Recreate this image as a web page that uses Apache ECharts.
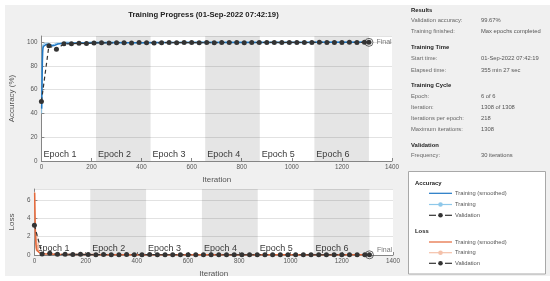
<!DOCTYPE html>
<html><head><meta charset="utf-8">
<script src="https://cdn.jsdelivr.net/npm/echarts/dist/echarts.min.js"></script>
<style>
html,body{margin:0;padding:0;background:#fff;}
#bg{position:absolute;left:5px;top:5px;width:545px;height:271px;background:#f0f0f0;}
#c{position:absolute;left:0;top:0;width:550px;height:281px;}
</style>
</head><body><div id="bg"></div><div id="c"></div>
<script>
const FONT = 'Liberation Sans, Arial, sans-serif';
const titleText = 'Training Progress (01-Sep-2022 07:42:19)';
const epochNames = ['Epoch 1','Epoch 2','Epoch 3','Epoch 4','Epoch 5','Epoch 6'];
const epochBounds = [0,218,436,654,872,1090,1308];
const xTicks = [0,200,400,600,800,1000,1200,1400];
const accTicks = [0,20,40,60,80,100];
const lossTicks = [0,2,4,6];

const valIter = [0,30,60,90,120,150,180,210,240,270,300,330,360,390,420,450,480,510,540,570,600,630,660,690,720,750,780,810,840,870,900,930,960,990,1020,1050,1080,1110,1140,1170,1200,1230,1260,1290,1308];
const accVal = [50.0,96.9,93.8,98.5,98.4,98.9,98.6,99.1,99.3,99.2,99.4,99.3,99.2,99.5,99.3,99.1,99.4,99.5,99.4,99.5,99.5,99.3,99.6,99.4,99.5,99.6,99.5,99.4,99.6,99.5,99.6,99.6,99.5,99.6,99.6,99.5,99.6,99.7,99.6,99.6,99.6,99.7,99.6,99.7,99.67];
const lossVal = [3.25,0.12,0.18,0.08,0.07,0.06,0.07,0.05,0.04,0.05,0.04,0.04,0.05,0.03,0.04,0.05,0.03,0.03,0.03,0.03,0.03,0.04,0.02,0.03,0.03,0.02,0.02,0.03,0.02,0.02,0.02,0.02,0.02,0.02,0.02,0.02,0.02,0.02,0.02,0.02,0.02,0.02,0.02,0.02,0.02];

const accTrainIter = [1,2,3,4,5,6,8,10,14,18,22,26,30,35,40,45,50,55,60,65,70,80,90,100,120,150,180,220,260,300,350,400,450,500,550,600,650,700,750,800,850,900,950,1000,1050,1100,1150,1200,1250,1308];
const accTrainSmooth = [44,58,72,84,91,94.5,96.3,97.0,97.4,97.8,97.6,97.9,98.0,97.6,97.2,96.8,96.6,97.3,98.0,98.3,98.5,98.7,98.8,98.9,99.0,99.1,99.2,99.3,99.3,99.4,99.4,99.4,99.5,99.5,99.5,99.5,99.5,99.6,99.6,99.6,99.6,99.6,99.6,99.6,99.6,99.7,99.7,99.7,99.7,99.7];
const accRawIter = [1,2,3,4,6,8,12,16,20,30,40,50,60,80,100,150,200,300,400,600,800,1000,1200,1308];
const accRaw = [40,75,90,96,98,97,98,99,98,99,97,98,99,99,100,99,100,100,99,100,100,100,100,100];

const lossTrainIter = [1,2,3,4,5,6,8,10,12,15,20,25,30,40,50,60,80,100,150,200,300,400,500,600,700,800,900,1000,1100,1200,1308];
const lossTrainSmooth = [6.8,5.0,3.5,2.4,1.7,1.2,0.75,0.5,0.4,0.32,0.25,0.2,0.16,0.13,0.11,0.1,0.08,0.07,0.06,0.05,0.04,0.04,0.03,0.03,0.03,0.02,0.02,0.02,0.02,0.02,0.02];
const lossRawIter = [1,2,3,5,7,9,11,13,15,17,20,25,30,40,60,100,200,400,800,1308];
const lossRaw = [6.9,4.2,2.0,0.9,0.5,2.3,0.4,0.6,1.3,0.3,0.2,0.25,0.1,0.08,0.1,0.05,0.03,0.02,0.02,0.02];

const finalAcc = 99.67, finalLoss = 0.02, finalIter = 1308;

const infoRows = [
  ['h','Results'],
  ['r','Validation accuracy:','99.67%'],
  ['r','Training finished:','Max epochs completed'],
  ['h','Training Time'],
  ['r','Start time:','01-Sep-2022 07:42:19'],
  ['r','Elapsed time:','355 min 27 sec'],
  ['h','Training Cycle'],
  ['r','Epoch:','6 of 6'],
  ['r','Iteration:','1308 of 1308'],
  ['r','Iterations per epoch:','218'],
  ['r','Maximum iterations:','1308'],
  ['h','Validation'],
  ['r','Frequency:','30 iterations']
];
const infoY = [10,20.3,31.5,47.7,58.5,70,85.5,96,107.2,118.5,129.8,145,155.8];

const legendGroups = [
  ['Accuracy', [['Training (smoothed)','#1f77c4','solid',false,'#1f77c4'],['Training','#8ec8ea','solid',true,'#8ec8ea'],['Validation','#333','dashed',true,'#333']]],
  ['Loss', [['Training (smoothed)','#e4683a','solid',false,'#e4683a'],['Training','#f4c1aa','solid',true,'#f4c1aa'],['Validation','#333','dashed',true,'#333']]]
];
const legendHeadY = [183.3, 231];
const legendItemY = [[193.3,204.5,215.3],[242,252.7,263.3]];

function zip(a,b){return a.map((v,i)=>[v,b[i]]);}
function epochAreas(){
  const out=[];
  for(let i=0;i<epochNames.length;i++){
    out.push([{name:epochNames[i], xAxis:epochBounds[i], itemStyle:{color: i%2===1?'rgba(0,0,0,0.10)':'rgba(0,0,0,0)'}},{xAxis:epochBounds[i+1]}]);
  }
  return out;
}

const chart = echarts.init(document.getElementById('c'), null, {renderer:'canvas'});

const axisCommon = {
  axisLine:{show:true,lineStyle:{color:'#858585',width:1}},
  axisTick:{show:true,inside:true,length:3,lineStyle:{color:'#858585'}},
  axisLabel:{fontSize:6.3,color:'#555',fontFamily:FONT,margin:3,formatter:v=>String(v)},
  nameTextStyle:{fontSize:8,color:'#555',fontFamily:FONT}
};

const graphics = [];
graphics.push({type:'text',x:203.5,y:15,style:{text:titleText,font:'bold 7.7px '+FONT,fill:'#222',textAlign:'center',textVerticalAlign:'middle'}});
infoRows.forEach((r,i)=>{
  if(r[0]==='h'){
    graphics.push({type:'text',x:411,y:infoY[i],style:{text:r[1],font:'bold 5.9px '+FONT,fill:'#222',textVerticalAlign:'middle'}});
  } else {
    graphics.push({type:'text',x:411,y:infoY[i],style:{text:r[1],font:'5.8px '+FONT,fill:'#666',textVerticalAlign:'middle'}});
    graphics.push({type:'text',x:481,y:infoY[i],style:{text:r[2],font:'5.8px '+FONT,fill:'#555',textVerticalAlign:'middle'}});
  }
});
graphics.push({type:'rect',shape:{x:408.5,y:171.5,width:137,height:102.5},style:{fill:'#fff',stroke:'#a8a8a8',lineWidth:1}});
legendGroups.forEach((g,gi)=>{
  graphics.push({type:'text',x:415,y:legendHeadY[gi],style:{text:g[0],font:'bold 5.9px '+FONT,fill:'#222',textVerticalAlign:'middle'},z:10});
  g[1].forEach((it,ii)=>{
    const y = legendItemY[gi][ii];
    if(it[2]==='dashed'){
      graphics.push({type:'line',shape:{x1:429,y1:y,x2:436,y2:y},style:{stroke:it[1],lineWidth:1.2},z:10});
      graphics.push({type:'line',shape:{x1:445,y1:y,x2:452,y2:y},style:{stroke:it[1],lineWidth:1.2},z:10});
    } else {
      graphics.push({type:'line',shape:{x1:429,y1:y,x2:452,y2:y},style:{stroke:it[1],lineWidth:1.2},z:10});
    }
    if(it[3]) graphics.push({type:'circle',shape:{cx:440.5,cy:y,r:2.3},style:{fill:it[4]},z:10});
    graphics.push({type:'text',x:455,y:y,style:{text:it[0],font:'5.8px '+FONT,fill:'#555',textVerticalAlign:'middle'},z:10});
  });
});

function markAreaCfg(){
  return {silent:true,
    label:{show:true,position:'insideBottomLeft',distance:2,formatter:'{b}',fontSize:9,color:'#3a3a3a',fontFamily:FONT},
    data:epochAreas()};
}

const option = {
  animation:false,
  backgroundColor:'transparent',
  textStyle:{fontFamily:FONT},
  grid:[
    {left:32,top:36,width:360,height:125,show:true,backgroundColor:'#fff',borderWidth:0},
    {left:24,top:189,width:369,height:66,show:true,backgroundColor:'#fff',borderWidth:0}
  ],
  xAxis:[
    Object.assign({},axisCommon,{gridIndex:0,type:'value',min:xTicks[0],max:xTicks[xTicks.length-1],interval:xTicks[1]-xTicks[0],splitLine:{show:false},name:'Iteration',nameLocation:'middle',nameGap:15}),
    Object.assign({},axisCommon,{gridIndex:1,type:'value',min:xTicks[0],max:xTicks[xTicks.length-1],interval:xTicks[1]-xTicks[0],splitLine:{show:false},name:'Iteration',nameLocation:'middle',nameGap:15})
  ],
  yAxis:[
    Object.assign({},axisCommon,{gridIndex:0,type:'value',min:accTicks[0],max:105,interval:accTicks[1]-accTicks[0],axisLabel:Object.assign({},axisCommon.axisLabel,{showMaxLabel:false,margin:4}),splitLine:{show:true,lineStyle:{color:'#e2e2e2'}},name:'Accuracy (%)',nameLocation:'middle',nameGap:19}),
    Object.assign({},axisCommon,{gridIndex:1,type:'value',min:lossTicks[0],max:7.2,interval:lossTicks[1]-lossTicks[0],axisLabel:Object.assign({},axisCommon.axisLabel,{showMaxLabel:false,margin:4}),splitLine:{show:true,lineStyle:{color:'#e2e2e2'}},name:'Loss',nameLocation:'middle',nameGap:11})
  ],
  graphic:graphics,
  series:[
    {type:'line',xAxisIndex:0,yAxisIndex:0,data:zip(accRawIter,accRaw),symbol:'none',lineStyle:{color:'#8ec8ea',width:1},markArea:markAreaCfg()},
    {type:'line',xAxisIndex:0,yAxisIndex:0,data:zip(accTrainIter,accTrainSmooth),symbol:'none',lineStyle:{color:'#1f77c4',width:1.5}},
    {type:'line',xAxisIndex:0,yAxisIndex:0,data:zip(valIter,accVal),symbol:'circle',symbolSize:5,itemStyle:{color:'#333'},lineStyle:{color:'#333',width:1.2,type:[4,3]}},
    {type:'scatter',xAxisIndex:0,yAxisIndex:0,data:[[finalIter,finalAcc]],symbol:'circle',symbolSize:8,itemStyle:{color:'rgba(0,0,0,0)',borderColor:'#444',borderWidth:1},label:{show:true,formatter:'Final',position:'right',distance:3,fontSize:7,color:'#555',fontFamily:FONT}},

    {type:'line',xAxisIndex:1,yAxisIndex:1,data:zip(lossRawIter,lossRaw),symbol:'none',lineStyle:{color:'#f4c1aa',width:1},markArea:markAreaCfg()},
    {type:'line',xAxisIndex:1,yAxisIndex:1,data:zip(lossTrainIter,lossTrainSmooth),symbol:'none',lineStyle:{color:'#e4683a',width:1.5}},
    {type:'line',xAxisIndex:1,yAxisIndex:1,data:zip(valIter,lossVal),symbol:'circle',symbolSize:5,itemStyle:{color:'#333'},lineStyle:{color:'#333',width:1.2,type:[4,3]}},
    {type:'scatter',xAxisIndex:1,yAxisIndex:1,data:[[finalIter,finalLoss]],symbol:'circle',symbolSize:8,itemStyle:{color:'rgba(0,0,0,0)',borderColor:'#444',borderWidth:1},label:{show:true,formatter:'Final',position:'right',distance:3,offset:[0,-5],fontSize:7,color:'#555',fontFamily:FONT}}
  ]
};
chart.setOption(option);
</script>
</body></html>
